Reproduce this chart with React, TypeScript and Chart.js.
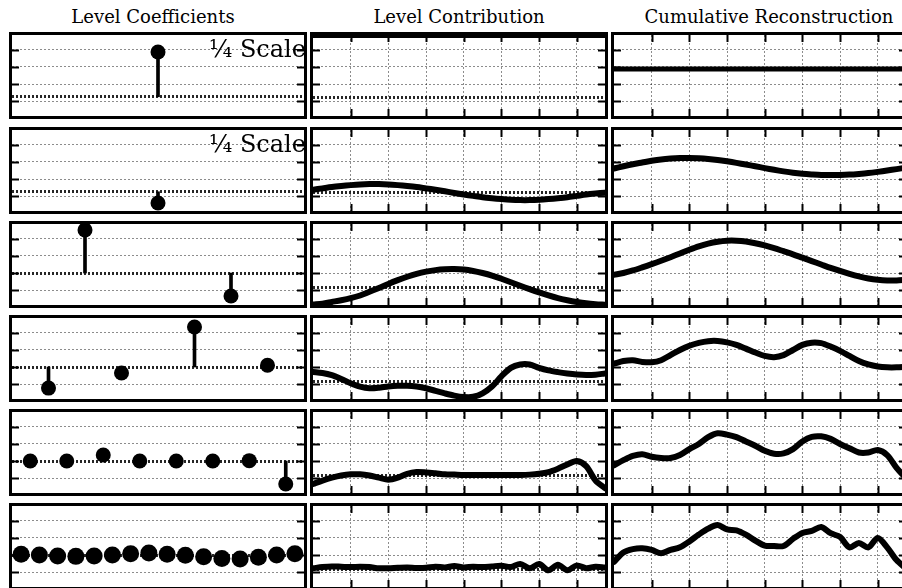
import React, { useEffect, useRef } from 'react';
import { Chart, registerables } from 'chart.js';

Chart.register(...registerables);

// ---------- text ----------
const TITLES = ['Level Coefficients', 'Level Contribution', 'Cumulative Reconstruction'];
const TITLE_CENTERS = [153, 459, 769];
const SCALE_LABEL = '\u00BC Scale';
const SCALE_LABEL_ROWS = [0, 1];

// ---------- axes (grid units) ----------
const Y_MIN = 0.12;
const Y_MAX = 4.88;
const GRID_LEVELS = [1, 2, 3, 4];
const SAMPLE_TICKS = [4, 8, 12, 16, 20, 24, 28];
const SAMPLES = [0, 1, 2, 3, 4, 5, 6, 7, 8, 9, 10, 11, 12, 13, 14, 15, 16, 17, 18, 19, 20, 21, 22, 23, 24, 25, 26, 27, 28, 29, 30, 31];

// zero levels of each row
const coefZero = [1.25, 1.25, 2, 2, 2, 2];
const contribZero = [1.2, 1.2, 1.15, 1.15, 1.15, 1.15];

// ---------- level coefficients ----------
const coef1 = [3.88];
const coef2 = [0.59];
const coef3 = [4.53, 0.65];
const coef4 = [0.76, 1.65, 4.35, 2.1];
const coef5 = [2.0, 2.0, 2.35, 2.0, 2.0, 2.0, 2.02, 0.65];
const coef6 = [2.04, 2.0, 1.94, 1.92, 1.94, 2.0, 2.08, 2.12, 2.04, 1.98, 1.9, 1.79, 1.77, 1.87, 2.0, 2.08];

// ---------- level contributions ----------
const contrib1 = [4.85, 4.85, 4.85, 4.85, 4.85, 4.85, 4.85, 4.85, 4.85, 4.85, 4.85, 4.85, 4.85, 4.85, 4.85, 4.85, 4.85, 4.85, 4.85, 4.85, 4.85, 4.85, 4.85, 4.85, 4.85, 4.85, 4.85, 4.85, 4.85, 4.85, 4.85, 4.85];
const contrib2 = [1.37, 1.45, 1.53, 1.59, 1.64, 1.68, 1.7, 1.7, 1.68, 1.64, 1.59, 1.53, 1.45, 1.37, 1.28, 1.18, 1.09, 1.01, 0.93, 0.87, 0.82, 0.78, 0.76, 0.76, 0.78, 0.82, 0.87, 0.93, 1.01, 1.09, 1.15, 1.2];
const contrib3 = [0.15, 0.2, 0.3, 0.4, 0.52, 0.68, 0.9, 1.12, 1.36, 1.58, 1.78, 1.95, 2.08, 2.17, 2.22, 2.23, 2.2, 2.12, 2.0, 1.85, 1.66, 1.46, 1.25, 1.05, 0.86, 0.68, 0.52, 0.4, 0.3, 0.22, 0.17, 0.14];
const contrib4 = [1.71, 1.65, 1.52, 1.3, 1.05, 0.85, 0.75, 0.78, 0.86, 0.9, 0.9, 0.85, 0.75, 0.6, 0.45, 0.32, 0.24, 0.25, 0.45, 0.85, 1.45, 1.95, 2.15, 2.15, 1.95, 1.8, 1.7, 1.62, 1.56, 1.53, 1.55, 1.62];
const contrib5 = [0.65, 0.85, 1.02, 1.15, 1.22, 1.22, 1.15, 1.02, 0.9, 1.02, 1.25, 1.35, 1.33, 1.28, 1.22, 1.2, 1.18, 1.18, 1.18, 1.18, 1.18, 1.18, 1.18, 1.2, 1.25, 1.35, 1.55, 1.8, 2.0, 1.7, 0.85, 0.4];
const contrib6 = [1.22, 1.29, 1.33, 1.31, 1.29, 1.31, 1.29, 1.22, 1.22, 1.25, 1.27, 1.24, 1.25, 1.31, 1.27, 1.35, 1.27, 1.31, 1.29, 1.33, 1.37, 1.29, 1.47, 1.22, 1.47, 1.1, 1.43, 1.1, 1.39, 1.22, 1.31, 1.27];

// ---------- cumulative reconstruction ----------
const recon1 = [2.88, 2.88, 2.88, 2.88, 2.88, 2.88, 2.88, 2.88, 2.88, 2.88, 2.88, 2.88, 2.88, 2.88, 2.88, 2.88, 2.88, 2.88, 2.88, 2.88, 2.88, 2.88, 2.88, 2.88, 2.88, 2.88, 2.88, 2.88, 2.88, 2.88, 2.88, 2.88];
const recon2 = [2.62, 2.75, 2.87, 2.97, 3.07, 3.15, 3.2, 3.23, 3.24, 3.22, 3.18, 3.12, 3.04, 2.95, 2.85, 2.75, 2.64, 2.54, 2.45, 2.37, 2.31, 2.27, 2.24, 2.24, 2.24, 2.26, 2.3, 2.35, 2.42, 2.5, 2.58, 2.67];
const recon3 = [1.9, 2.0, 2.15, 2.33, 2.52, 2.72, 2.93, 3.15, 3.37, 3.57, 3.73, 3.84, 3.9, 3.9, 3.85, 3.75, 3.62, 3.46, 3.28, 3.1, 2.9, 2.7, 2.5, 2.3, 2.12, 1.95, 1.8, 1.68, 1.6, 1.56, 1.56, 1.6];
const recon4 = [2.2, 2.35, 2.4, 2.3, 2.28, 2.4, 2.7, 3.0, 3.25, 3.42, 3.52, 3.53, 3.45, 3.3, 3.08, 2.85, 2.65, 2.58, 2.7, 3.0, 3.3, 3.43, 3.4, 3.2, 2.95, 2.65, 2.35, 2.15, 2.03, 1.98, 1.98, 2.02];
const recon5 = [1.75, 2.05, 2.3, 2.4, 2.25, 2.18, 2.18, 2.35, 2.7, 3.0, 3.4, 3.63, 3.55, 3.4, 3.15, 2.9, 2.6, 2.43, 2.45, 2.7, 3.15, 3.42, 3.45, 3.3, 3.0, 2.75, 2.5, 2.5, 2.65, 2.35, 1.6, 1.0];
const recon6 = [1.6, 2.15, 2.35, 2.4, 2.3, 2.1, 2.3, 2.45, 2.8, 3.2, 3.55, 3.76, 3.5, 3.45, 3.2, 2.85, 2.55, 2.53, 2.53, 2.95, 3.3, 3.42, 3.65, 3.28, 3.06, 2.45, 2.7, 2.45, 3.0, 2.45, 1.7, 1.2];

const COEFS = [coef1, coef2, coef3, coef4, coef5, coef6];
const CONTRIBS = [contrib1, contrib2, contrib3, contrib4, contrib5, contrib6];
const RECONS = [recon1, recon2, recon3, recon4, recon5, recon6];

// ---------- layout ----------
const COL_LEFT = [9, 310, 611];
const ROW_TOP = [32, 127, 221, 315, 409, 503];
const PANEL_W = 298;
const PANEL_H = 87;
const BORDER = 3;

const SERIF = '"DejaVu Serif", "Liberation Serif", serif';

const decoPlugin = {
  id: 'panelDeco',
  afterDraw(chart: any, _args: any, opts: any) {
    const { ctx, chartArea: a, scales } = chart;
    ctx.save();
    ctx.strokeStyle = '#000';
    ctx.lineWidth = 2;
    const L = 7;
    const seg = (x1: number, y1: number, x2: number, y2: number) => {
      ctx.beginPath();
      ctx.moveTo(x1, y1);
      ctx.lineTo(x2, y2);
      ctx.stroke();
    };
    GRID_LEVELS.forEach((v) => {
      const py = Math.round(scales.y.getPixelForValue(v)) + 0.5;
      seg(a.left, py, a.left + L, py);
      seg(a.right - L, py, a.right, py);
    });
    if (opts && opts.vticks) {
      SAMPLE_TICKS.forEach((v) => {
        const px = Math.round(scales.x.getPixelForValue(v)) + 0.5;
        seg(px, a.top, px, a.top + L);
        seg(px, a.bottom - L, px, a.bottom);
      });
    }
    if (opts && opts.label) {
      ctx.fillStyle = '#000';
      ctx.font = '24px ' + SERIF;
      ctx.textAlign = 'right';
      ctx.textBaseline = 'alphabetic';
      ctx.fillText(opts.label, a.right + 2, a.top + 22);
    }
    ctx.restore();
  },
};

function yScale(zero: number | null) {
  const isZero = (v: number) => zero !== null && Math.abs(v - zero) < 1e-6;
  return {
    type: 'linear',
    min: Y_MIN,
    max: Y_MAX,
    ticks: { display: false },
    afterBuildTicks: (s: any) => {
      const vals = Array.from(new Set([...GRID_LEVELS, ...(zero !== null ? [zero] : [])]));
      s.ticks = vals.map((v) => ({ value: v }));
    },
    grid: {
      drawTicks: false,
      color: (c: any) => (isZero(c.tick.value) ? 'rgba(0,0,0,0.85)' : 'rgba(0,0,0,0.45)'),
      lineWidth: (c: any) => (isZero(c.tick.value) ? 3 : 1),
    },
    border: { display: false, dash: [2, 2] },
  };
}

function makeConfig(col: number, row: number): any {
  const base = {
    responsive: false,
    maintainAspectRatio: false,
    animation: false,
    events: [],
    layout: { padding: 0, autoPadding: false },
    plugins: {
      legend: { display: false },
      tooltip: { enabled: false },
      title: { display: false },
      panelDeco: {
        vticks: col !== 0,
        label: col === 0 && SCALE_LABEL_ROWS.includes(row) ? SCALE_LABEL : null,
      },
    },
  };
  if (col === 0) {
    const vals = COEFS[row];
    const z = coefZero[row];
    return {
      type: 'bar',
      data: {
        labels: vals.map((_, i) => String(i)),
        datasets: [
          {
            type: 'line',
            data: vals,
            showLine: false,
            pointRadius: row === 5 ? 8.5 : 7.5,
            pointBackgroundColor: '#000',
            pointBorderWidth: 0,
            order: 1,
          },
          {
            type: 'bar',
            data: vals.map((v) => [z, v]),
            backgroundColor: '#000',
            borderWidth: 0,
            barThickness: 3,
            order: 2,
          },
        ],
      },
      options: {
        ...base,
        scales: {
          x: {
            type: 'category',
            offset: true,
            grid: { display: false, drawTicks: false },
            ticks: { display: false },
            border: { display: false },
          },
          y: yScale(z),
        },
      },
      plugins: [decoPlugin],
    };
  }
  const vals = col === 1 ? CONTRIBS[row] : RECONS[row];
  const zero = col === 1 ? contribZero[row] : null;
  return {
    type: 'line',
    data: {
      datasets: [
        {
          data: SAMPLES.map((x, i) => ({ x, y: vals[i] })),
          borderColor: '#000',
          borderWidth: row === 0 ? 5 : 6,
          pointRadius: 0,
          tension: 0.3,
          fill: false,
          borderCapStyle: 'round',
          borderJoinStyle: 'round',
        },
      ],
    },
    options: {
      ...base,
      scales: {
        x: {
          type: 'linear',
          min: 0,
          max: 31,
          ticks: { display: false },
          afterBuildTicks: (s: any) => {
            s.ticks = SAMPLE_TICKS.map((v) => ({ value: v }));
          },
          grid: { drawTicks: false, color: 'rgba(0,0,0,0.45)', lineWidth: 1 },
          border: { display: false, dash: [2, 2] },
        },
        y: yScale(zero),
      },
    },
    plugins: [decoPlugin],
  };
}

function Panel({ col, row }: { col: number; row: number }) {
  const ref = useRef<HTMLCanvasElement | null>(null);
  useEffect(() => {
    if (!ref.current) return;
    const chart = new Chart(ref.current, makeConfig(col, row));
    return () => chart.destroy();
  }, [col, row]);
  return (
    <div
      style={{
        position: 'absolute',
        left: COL_LEFT[col],
        top: ROW_TOP[row],
        width: PANEL_W,
        height: PANEL_H,
        boxSizing: 'border-box',
        border: `${BORDER}px solid #000`,
        background: '#fff',
      }}
    >
      <canvas
        ref={ref}
        width={PANEL_W - 2 * BORDER}
        height={PANEL_H - 2 * BORDER}
        style={{ display: 'block', width: PANEL_W - 2 * BORDER, height: PANEL_H - 2 * BORDER }}
      />
    </div>
  );
}

export default function App() {
  const cells: React.ReactNode[] = [];
  for (let r = 0; r < 6; r++) {
    for (let c = 0; c < 3; c++) {
      cells.push(<Panel key={`${r}-${c}`} col={c} row={r} />);
    }
  }
  return (
    <div
      style={{
        position: 'absolute',
        left: 0,
        top: 0,
        width: 902,
        height: 588,
        overflow: 'hidden',
        background: '#fff',
      }}
    >
      {TITLES.map((t, i) => (
        <div
          key={t}
          style={{
            position: 'absolute',
            left: TITLE_CENTERS[i],
            top: 8,
            transform: 'translateX(-50%)',
            whiteSpace: 'nowrap',
            fontFamily: SERIF,
            fontSize: 18,
            lineHeight: '18px',
            color: '#000',
          }}
        >
          {t}
        </div>
      ))}
      {cells}
    </div>
  );
}
